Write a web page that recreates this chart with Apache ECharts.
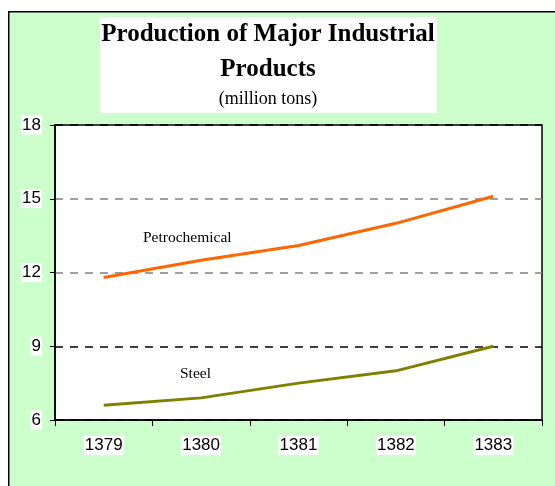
<!DOCTYPE html>
<html>
<head>
<meta charset="utf-8">
<script src="https://cdn.jsdelivr.net/npm/echarts@6/dist/echarts.min.js"></script>
<style>
  html, body { margin: 0; padding: 0; background: #fff; }
  #chart { width: 555px; height: 486px; }
</style>
</head>
<body>
<div id="chart"></div>
<script>
const years = ['1379', '1380', '1381', '1382', '1383']
const petrochemical = [11.8, 12.5, 13.1, 14.0, 15.1]
const steel = [6.6, 6.9, 7.5, 8.0, 9.0]

const chart = echarts.init(document.getElementById('chart'))

chart.setOption({
  backgroundColor: '#fff',
  animation: false,
  graphic: [
    {
      type: 'rect',
      left: 8, top: 11,
      shape: { width: 560, height: 490 },
      style: { fill: '#ccffcc', stroke: '#000', lineWidth: 1.5 },
      z: -10
    },
    {
      type: 'rect',
      left: 100, top: 17,
      shape: { width: 337, height: 96 },
      style: { fill: '#fff' },
      z: -5
    },
    {
      type: 'text',
      x: 268, y: 22,
      style: {
        text: 'Production of Major Industrial',
        font: 'bold 25px "Liberation Serif", serif',
        fill: '#000',
        align: 'center'
      }
    },
    {
      type: 'text',
      x: 268, y: 57,
      style: {
        text: 'Products',
        font: 'bold 25px "Liberation Serif", serif',
        fill: '#000',
        align: 'center'
      }
    },
    {
      type: 'text',
      x: 268, y: 90,
      style: {
        text: '(million tons)',
        font: '18px "Liberation Serif", serif',
        fill: '#000',
        align: 'center'
      }
    },
    {
      type: 'text',
      left: 143, top: 230,
      style: { text: 'Petrochemical', font: '15.5px "Liberation Serif", serif', fill: '#000' }
    },
    {
      type: 'text',
      left: 180, top: 366,
      style: { text: 'Steel', font: '15.5px "Liberation Serif", serif', fill: '#000' }
    }
  ],
  grid: {
    left: 55, right: 13, top: 125, bottom: 66,
    show: true,
    backgroundColor: '#fff',
    borderColor: '#000',
    borderWidth: 1.5
  },
  xAxis: {
    type: 'category',
    data: years,
    boundaryGap: true,
    axisLine: { lineStyle: { color: '#000', width: 1.5 } },
    axisTick: { show: true, length: 6, inside: false, lineStyle: { color: '#000' } },
    axisLabel: {
      color: '#000',
      fontSize: 17,
      fontFamily: '"Liberation Sans", Arial, sans-serif',
      margin: 16,
      backgroundColor: '#fff',
      padding: [1, 1]
    },
    splitLine: { show: false }
  },
  yAxis: {
    type: 'value',
    min: 6, max: 18, interval: 3,
    axisLine: { show: true, lineStyle: { color: '#000', width: 1.5 } },
    axisTick: { show: true, length: 5, lineStyle: { color: '#000' } },
    axisLabel: {
      color: '#000',
      fontSize: 17,
      fontFamily: '"Liberation Sans", Arial, sans-serif',
      margin: 13,
      backgroundColor: '#fff',
      padding: [1, 1]
    },
    splitLine: {
      show: true,
      lineStyle: {
        color: ['#000', '#000', '#808080', '#808080', '#000'],
        type: [8, 7],
        width: 1.7
      }
    }
  },
  series: [
    {
      name: 'Petrochemical',
      type: 'line',
      data: petrochemical,
      showSymbol: false,
      lineStyle: { color: '#ff6600', width: 3 }
    },
    {
      name: 'Steel',
      type: 'line',
      data: steel,
      showSymbol: false,
      lineStyle: { color: '#808000', width: 3 }
    }
  ]
})
</script>
</body>
</html>
